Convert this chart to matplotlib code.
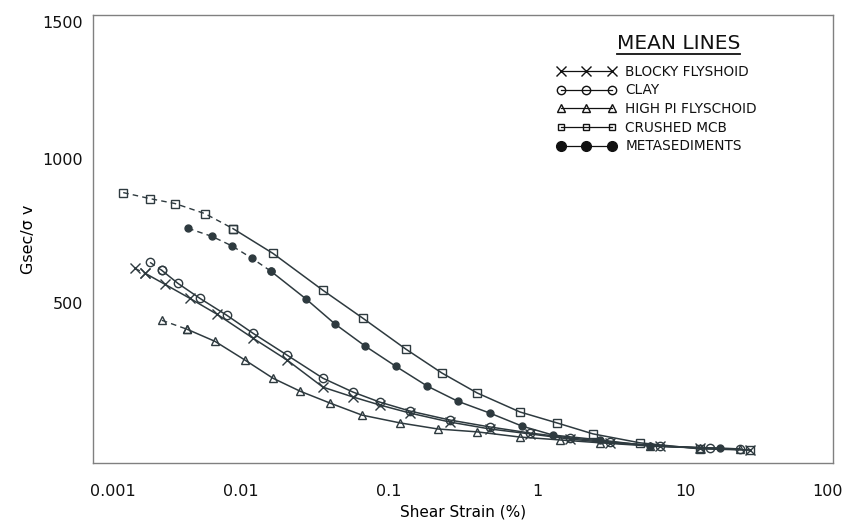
import matplotlib
matplotlib.use("Agg")
import matplotlib.pyplot as plt
from matplotlib.lines import Line2D
from matplotlib.transforms import ScaledTranslation

# ---- data ----
blocky_x = [0.00192, 0.00225, 0.00306, 0.00452, 0.00689, 0.01205, 0.0205, 0.0358, 0.0571, 0.0869,
            0.139, 0.258, 0.481, 0.897, 1.67, 3.11, 6.78, 12.6, 27.5]
blocky_y = [621, 604, 566, 517, 462, 379, 303, 209, 175, 147, 119, 88, 64, 47, 29, 16, 5, -2, -9]

clay_x = [0.00243, 0.00292, 0.00375, 0.00528, 0.00804, 0.01205, 0.0205, 0.0358, 0.0571, 0.0869,
          0.139, 0.258, 0.481, 0.897, 1.67, 3.11, 6.78, 14.8, 23.5]
clay_y = [642, 614, 569, 517, 458, 396, 320, 240, 192, 157, 126, 95, 71, 50, 33, 19, 5, -2, -5]

highpi_x = [0.00292, 0.00432, 0.00667, 0.01064, 0.01645, 0.0251, 0.0399, 0.0658, 0.119, 0.214,
            0.394, 0.767, 1.43, 2.67, 5.80, 12.6, 23.5]
highpi_y = [441, 410, 368, 303, 240, 195, 154, 112, 85, 64, 54, 36, 26, 16, 5, -2, -5]

mcb_x = [0.00160, 0.00243, 0.00358, 0.00571, 0.00883, 0.01645, 0.0358, 0.0667, 0.130, 0.228,
         0.394, 0.767, 1.365, 2.39, 4.96, 12.6, 27.5]
mcb_y = [884, 863, 846, 811, 759, 673, 545, 448, 341, 258, 189, 123, 85, 47, 16, -5, -9]

meta_x = [0.00439, 0.00637, 0.00869, 0.01187, 0.01595, 0.0275, 0.0432, 0.0688, 0.1115, 0.181,
          0.292, 0.481, 0.792, 1.28, 2.67, 5.80, 17.2]
meta_y = [760, 732, 699, 656, 611, 515, 428, 352, 281, 213, 160, 119, 74, 43, 26, 5, -3]

labels = ["BLOCKY FLYSHOID", "CLAY", "HIGH PI FLYSCHOID", "CRUSHED MCB", "METASEDIMENTS"]
x_ticks = [0.001, 0.01, 0.1, 1, 10, 100]
x_tick_labels = ["0.001", "0.01", "0.1", "1", "10", "100"]
y_ticks = [500, 1000, 1500]

# ---- figure ----
plt.rcParams['font.family'] = ['DejaVu Sans']
fig = plt.figure(figsize=(8.45, 5.26), dpi=100)
ax = fig.add_axes([93/845, 1 - 463/526, 740/845, 448/526])

col = "#2e3a3f"
series = [
    (blocky_x, blocky_y, dict(marker='x', mfc='none', ms=7, mew=1.0), 2),
    (clay_x, clay_y, dict(marker='o', mfc='none', ms=6, mew=1.0), 2),
    (highpi_x, highpi_y, dict(marker='^', mfc='none', ms=6, mew=1.0), 2),
    (mcb_x, mcb_y, dict(marker='s', mfc='none', ms=5.5, mew=1.0), 5),
    (meta_x, meta_y, dict(marker='o', mfc=col, ms=5, mew=1.0), 5),
]
leg_sizes = [6.5, 6, 6, 5, 7]
handles = []
for (xs, ys, mk, nd), lab, ls_ in zip(series, labels, leg_sizes):
    ax.plot(xs[:nd], ys[:nd], color=col, lw=1.0, ls=(0, (4, 3)), **mk)
    ax.plot(xs[nd - 1:], ys[nd - 1:], color=col, lw=1.1, **mk)
    hk = dict(mk)
    hk['ms'] = ls_
    if hk['mfc'] != 'none':
        hk['mfc'] = '#111111'
    handles.append(Line2D([], [], color='#111111', lw=0.9, label=lab, **hk))

ax.set_xscale('log')
ax.set_xlim(0.001, 100)
ax.set_ylim(-54, 1500)
ax.set_xticks(x_ticks)
ax.set_xticklabels(x_tick_labels)
ax.minorticks_off()
ax.set_yticks(y_ticks)
ax.tick_params(length=0, labelsize=11.5, colors='#111111')
ax.tick_params(axis='x', pad=15)
ax.tick_params(axis='y', pad=7)
xl = ax.get_xticklabels()
xl[0].set_horizontalalignment('left')
xl[0].set_transform(xl[0].get_transform() + ScaledTranslation(-3/100, 0, fig.dpi_scale_trans))
xl[-1].set_horizontalalignment('right')
xl[-1].set_transform(xl[-1].get_transform() + ScaledTranslation(10/100, 0, fig.dpi_scale_trans))
ax.get_yticklabels()[-1].set_verticalalignment('top')
ax.get_yticklabels()[-1].set_transform(ax.get_yticklabels()[-1].get_transform()
                                       + ScaledTranslation(0, -1/100, fig.dpi_scale_trans))
for s in ax.spines.values():
    s.set_color('#808080')
    s.set_linewidth(1.0)

ax.set_xlabel("Shear Strain (%)", fontsize=11, labelpad=4)
ax.set_ylabel("Gsec/σ v", fontsize=11.5, labelpad=5)

leg = ax.legend(handles=handles, loc='upper left', bbox_to_anchor=(0.618, 0.904),
                frameon=False, numpoints=3, handlelength=4.3, handletextpad=0.7,
                labelspacing=0.34,
                prop={'family': ['Liberation Sans Narrow', 'DejaVu Sans'], 'size': 9.8},
                borderpad=0)
for t in leg.get_texts():
    t.set_color('#111111')

ax.text(0.791, 0.937, "MEAN LINES", transform=ax.transAxes, ha='center', va='center',
        fontsize=14.5, color='#111111')
ax.plot([0.708, 0.874], [0.913, 0.913], transform=ax.transAxes, color='#111111', lw=1.3,
        clip_on=False)

fig.savefig("out.png", dpi=100)
